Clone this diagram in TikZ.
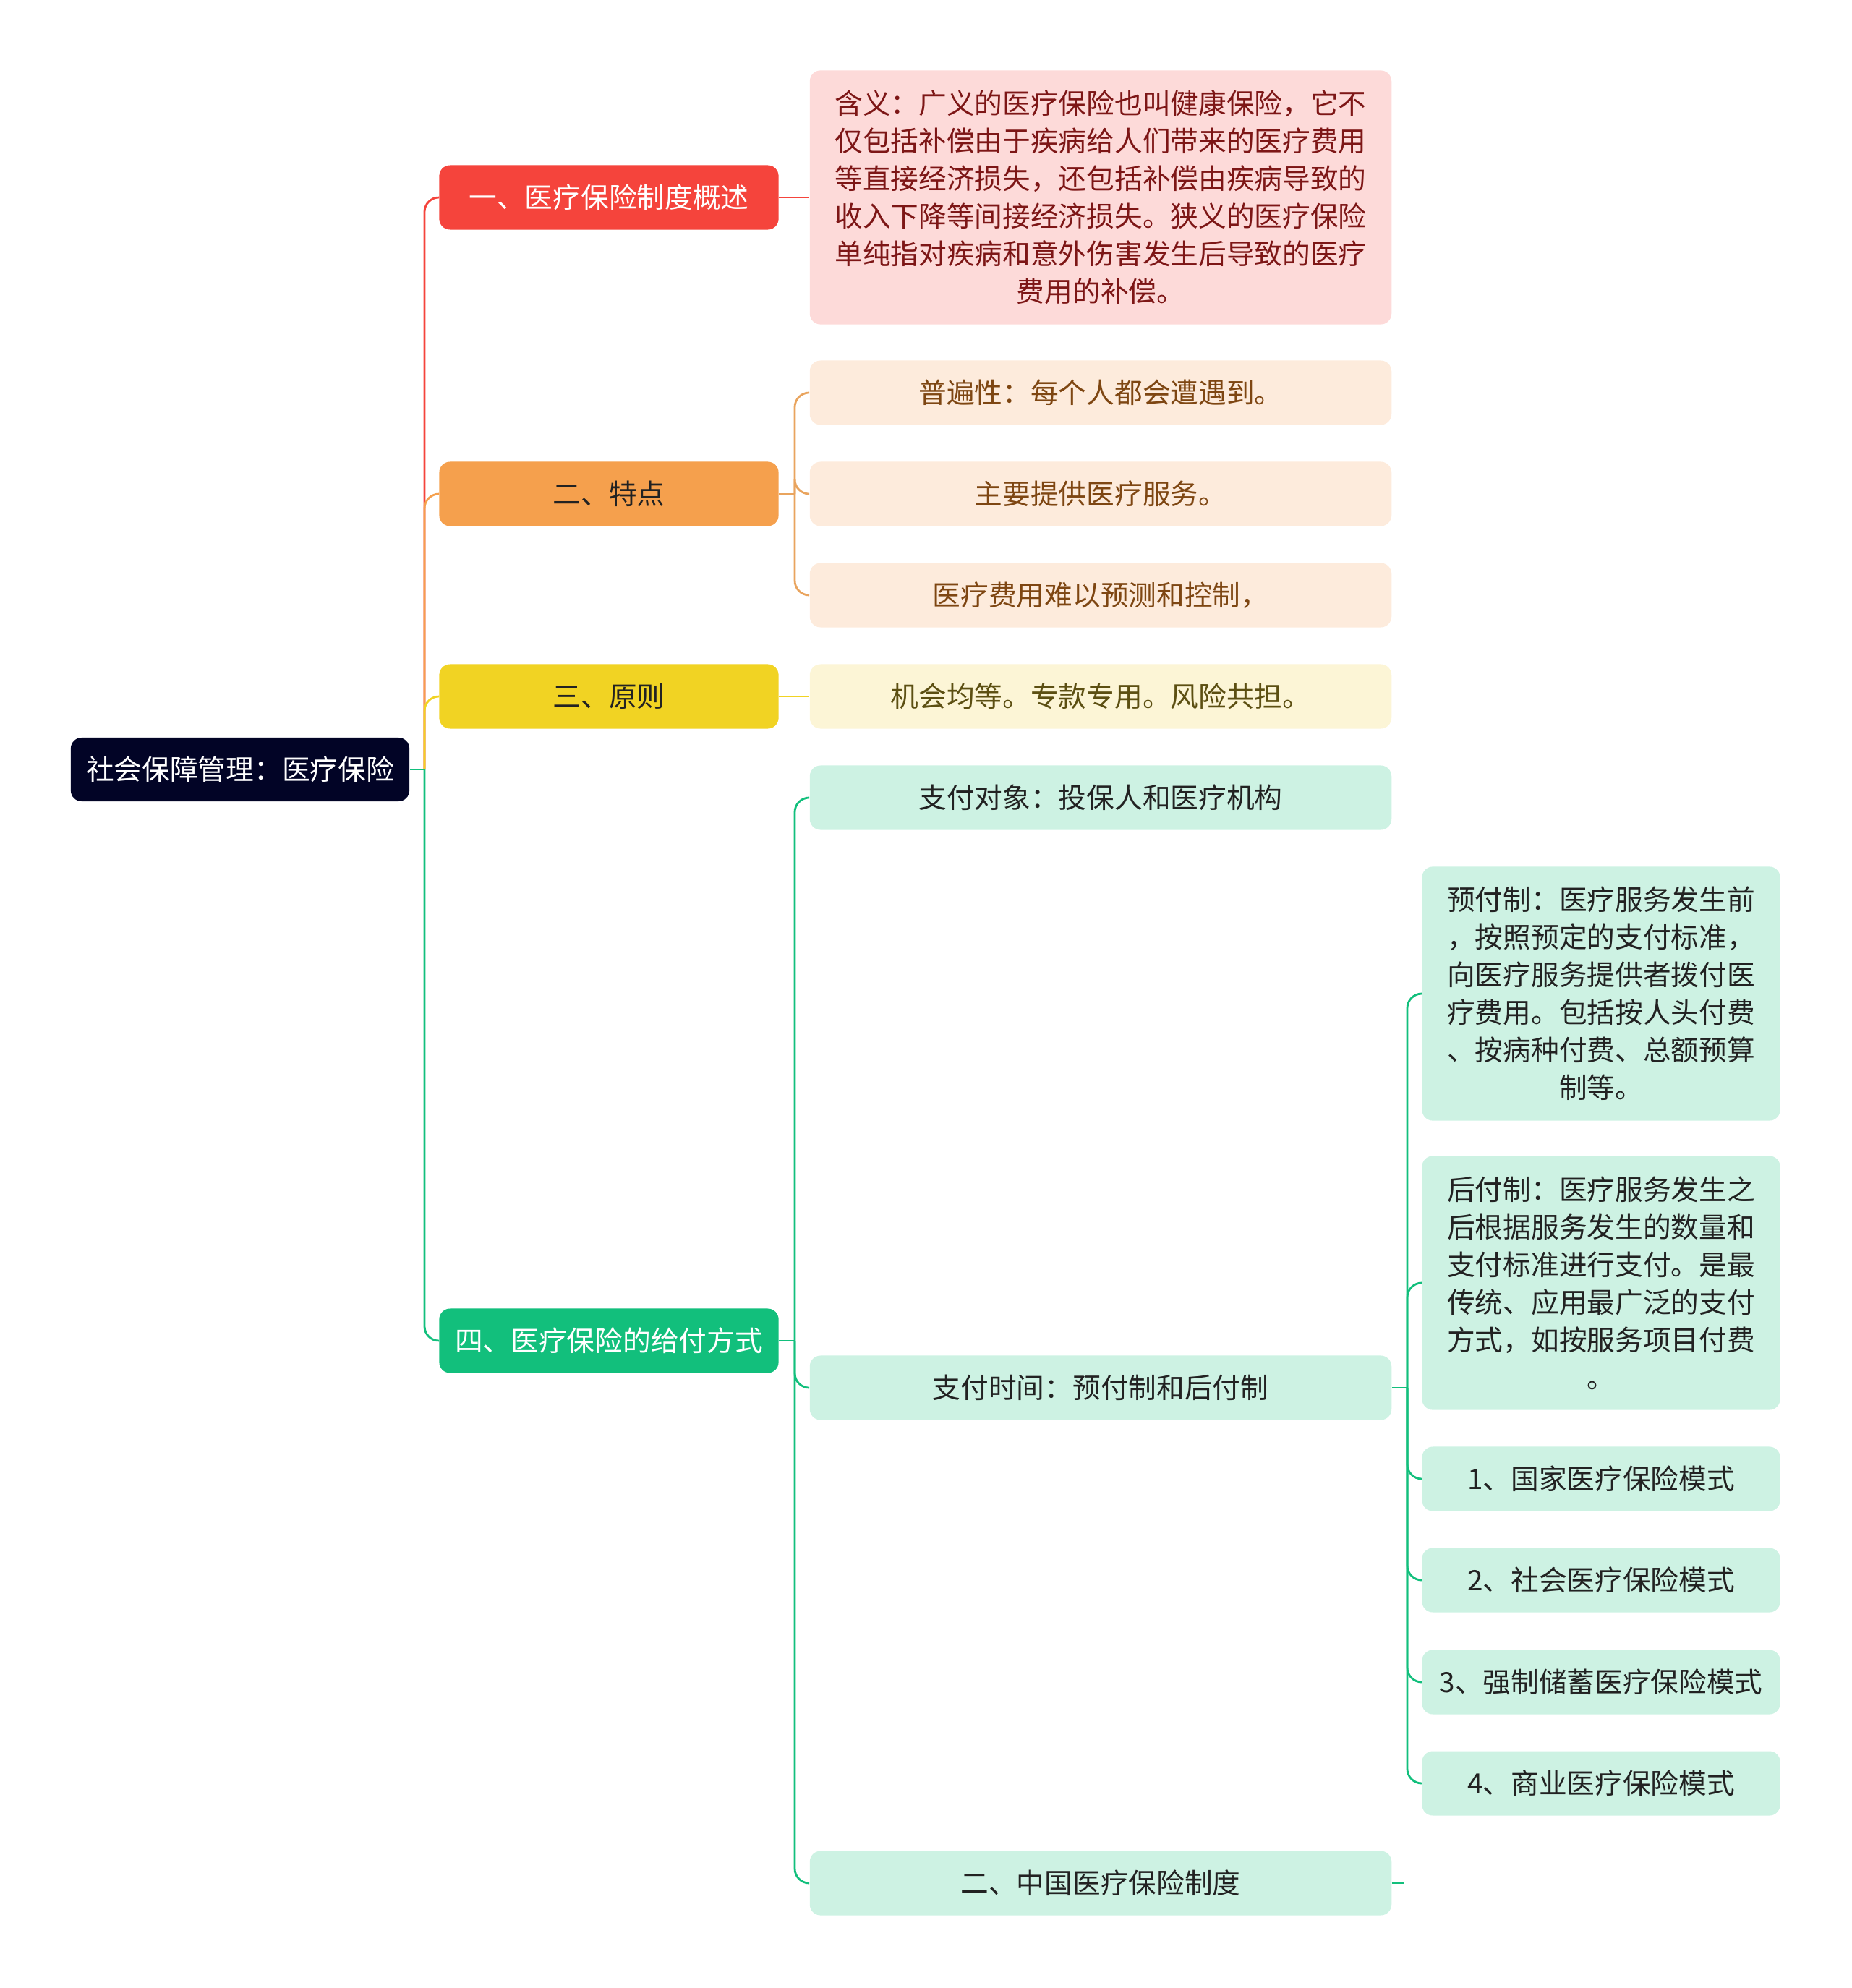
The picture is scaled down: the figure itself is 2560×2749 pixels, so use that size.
\documentclass[tikz,border=0pt]{standalone}
\usepackage{fontspec}
\setmainfont{Noto Sans CJK SC}
\definecolor{ink}{HTML}{020426}
\definecolor{redA}{HTML}{F5443C}
\definecolor{orangeA}{HTML}{F5A04D}
\definecolor{yellowA}{HTML}{F1D323}
\definecolor{greenA}{HTML}{12BF7C}
\definecolor{pinkF}{HTML}{FDDAD9}
\definecolor{pinkT}{HTML}{7D1616}
\definecolor{peachF}{HTML}{FDEBDC}
\definecolor{peachT}{HTML}{7E4612}
\definecolor{peachL}{HTML}{E9A45E}
\definecolor{creamF}{HTML}{FCF5D6}
\definecolor{creamT}{HTML}{5C4F12}
\definecolor{mintF}{HTML}{CDF2E3}
\definecolor{dark}{HTML}{222222}

\begin{document}
\begin{tikzpicture}[x=0.01cm,y=-0.01cm,
  every node/.style={font=\fontsize{11pt}{14.8pt}\selectfont,rounded corners=1.5mm,inner sep=0pt,align=center},
  topic/.style 2 args={fill=#1,text=#2,minimum width=4.69cm,minimum height=0.89cm},
  leaf/.style 2 args={fill=#1,text=#2,minimum width=8.04cm,minimum height=0.89cm},
  subleaf/.style={fill=mintF,text=dark,minimum width=4.95cm,minimum height=0.89cm},
  link/.style={line width=0.8pt,draw=#1},
  bend/.style={link=#1,rounded corners=2mm}]
\useasboundingbox (0,0) rectangle (2560,2749);

% root and main topics
\node[fill=ink,text=white,minimum width=4.68cm,minimum height=0.88cm] (root) at (332,1064) {社会保障管理：医疗保险};
\node[topic={redA}{white}] (t1) at (842,273) {一、医疗保险制度概述};
\node[topic={orangeA}{dark}] (t2) at (842,683) {二、特点};
\node[topic={yellowA}{dark}] (t3) at (842,963) {三、原则};
\node[topic={greenA}{white}] (t4) at (842,1854) {四、医疗保险的给付方式};

% second level
\node[leaf={pinkF}{pinkT},minimum height=3.51cm] (b1) at (1522,273) {含义：广义的医疗保险也叫健康保险，它不\\仅包括补偿由于疾病给人们带来的医疗费用\\等直接经济损失，还包括补偿由疾病导致的\\收入下降等间接经济损失。狭义的医疗保险\\单纯指对疾病和意外伤害发生后导致的医疗\\费用的补偿。};
\node[leaf={peachF}{peachT}] (b2) at (1522,543) {普遍性：每个人都会遭遇到。};
\node[leaf={peachF}{peachT}] (b3) at (1522,683) {主要提供医疗服务。};
\node[leaf={peachF}{peachT}] (b4) at (1522,823) {医疗费用难以预测和控制，};
\node[leaf={creamF}{creamT}] (b5) at (1522,963) {机会均等。专款专用。风险共担。};
\node[leaf={mintF}{dark}] (b6) at (1522,1103) {支付对象：投保人和医疗机构};
\node[leaf={mintF}{dark}] (b7) at (1522,1919) {支付时间：预付制和后付制};
\node[leaf={mintF}{dark}] (b8) at (1522,2604) {二、中国医疗保险制度};

% third level
\node[subleaf,minimum height=3.51cm] (c1) at (2214,1374) {预付制：医疗服务发生前\\，按照预定的支付标准，\\向医疗服务提供者拨付医\\疗费用。包括按人头付费\\、按病种付费、总额预算\\制等。};
\node[subleaf,minimum height=3.51cm] (c2) at (2214,1774) {后付制：医疗服务发生之\\后根据服务发生的数量和\\支付标准进行支付。是最\\传统、应用最广泛的支付\\方式，如按服务项目付费\\。};
\node[subleaf] (c3) at (2214,2045) {1、国家医疗保险模式};
\node[subleaf] (c4) at (2214,2185) {2、社会医疗保险模式};
\node[subleaf] (c5) at (2214,2326) {3、强制储蓄医疗保险模式};
\node[subleaf] (c6) at (2214,2466) {4、商业医疗保险模式};

% connectors
\coordinate (j0) at (587,1064);
\coordinate (j2) at (1099,683);
\coordinate (j4) at (1099,1854);
\coordinate (j7) at (1946,1919);
\coordinate (s8) at (1941,2604);
\draw[link=greenA] (root.east) -- (j0);
\draw[bend=redA] (j0) |- (t1.west);
\draw[bend=orangeA] (j0) |- (t2.west);
\draw[bend=yellowA] (j0) |- (t3.west);
\draw[bend=greenA] (j0) |- (t4.west);
\draw[link=redA] (t1.east) -- (b1.west);
\draw[link=peachL] (t2.east) -- (j2);
\foreach \c in {b2,b3,b4} \draw[bend=peachL] (j2) |- (\c.west);
\draw[link=yellowA] (t3.east) -- (b5.west);
\draw[link=greenA] (t4.east) -- (j4);
\foreach \c in {b6,b7,b8} \draw[bend=greenA] (j4) |- (\c.west);
\draw[link=greenA] (b7.east) -- (j7);
\foreach \c in {c1,c2,c3,c4,c5,c6} \draw[bend=greenA] (j7) |- (\c.west);
\draw[link=greenA] (b8.east) -- (s8);
\end{tikzpicture}
\end{document}
